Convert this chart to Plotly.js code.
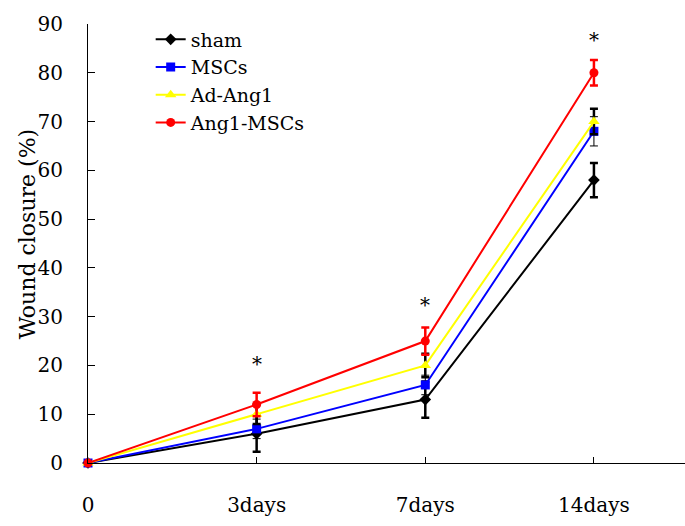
<!DOCTYPE html>
<html><head><meta charset="utf-8">
<script src="https://cdn.plot.ly/plotly-3.0.1.min.js"></script>
<style>body{margin:0;background:#fff}#c{width:685px;height:526px}</style>
</head><body><div id="c"></div>
<script>
const categories = ["0", "3days", "7days", "14days"];
const shamVals = [0, 6, 13, 58];
const shamErr = [0, 3.7, 3.7, 3.5];
const mscVals = [0, 7, 16, 68];
const mscErr = [0, 2, 2, 3];
const adVals = [0, 10, 20, 70];
const adErr = [0, 2, 2.4, 2.6];
const angVals = [0, 12, 25, 80];
const angErr = [0, 2.4, 2.8, 2.6];
const starY = [20.3, 32.3, 86.8];
const starX = ["3days", "7days", "14days"];
const yTitle = "Wound closure (%)";

const FONT = "DejaVu Serif";
function tr(name, y, err, color, sym, size, errColor, errW) {
  return {
    type: "scatter", mode: "lines+markers", name: name, x: categories, y: y,
    cliponaxis: false,
    line: {color: color, width: 2},
    marker: {color: color, symbol: sym, size: size},
    error_y: {type: "data", array: err, visible: true, color: errColor, thickness: errW, width: 4}
  };
}
const data = [
  tr("sham", shamVals, shamErr, "#000000", "diamond", 9, "#000000", 2.5),
  tr("MSCs", mscVals, mscErr, "#0000FF", "square", 9, "#000000", 1),
  tr("Ad-Ang1", adVals, adErr, "#FFFF00", "triangle-up", 10, "#000000", 2.5),
  tr("Ang1-MSCs", angVals, angErr, "#FF0000", "circle", 9, "#FF0000", 2.5)
];
const annotations = starX.map((x, i) => ({
  x: x, y: starY[i], xref: "x", yref: "y", text: "*", showarrow: false,
  font: {family: FONT, size: 20, color: "#000"}
}));
annotations.push({
  x: 0, y: 0.521, xref: "paper", yref: "paper", xanchor: "center", yanchor: "middle",
  xshift: -61, text: yTitle, textangle: -90, showarrow: false,
  font: {family: FONT, size: 22, color: "#000"}
});
const layout = {
  width: 685, height: 526,
  margin: {l: 88, r: 0, t: 24, b: 63},
  paper_bgcolor: "#fff", plot_bgcolor: "#fff",
  font: {family: FONT, size: 20, color: "#000"},
  showlegend: true,
  legend: {x: 0.105, y: 1.008, xanchor: "left", yanchor: "top", bgcolor: "rgba(0,0,0,0)",
           font: {family: FONT, size: 19}, tracegroupgap: 0, itemwidth: 30},
  xaxis: {type: "category", range: [0, 3.54], showline: true, linecolor: "#000", linewidth: 1,
          ticks: "inside", ticklen: 6, tickcolor: "#000", showgrid: false, zeroline: false,
          ticklabelstandoff: 24, tickfont: {family: FONT, size: 20}},
  yaxis: {range: [0, 90], dtick: 10, showline: true, linecolor: "#000", linewidth: 1,
          ticks: "inside", ticklen: 7, tickcolor: "#000", showgrid: false, zeroline: false,
          ticklabelstandoff: 20, tickfont: {family: FONT, size: 20}},
  annotations: annotations
};
Plotly.newPlot("c", data, layout, {displayModeBar: false});
</script></body></html>
